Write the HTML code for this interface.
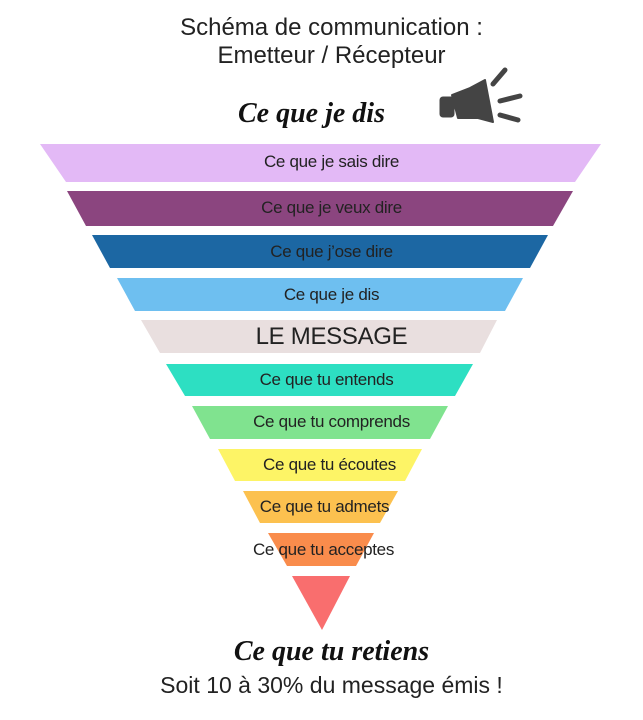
<!DOCTYPE html>
<html><head><meta charset="utf-8"><style>
body{margin:0;width:643px;height:720px;background:#fff;position:relative;overflow:hidden;font-family:"Liberation Sans",sans-serif;}
.t{position:absolute;left:0;width:643px;text-align:center;color:#222;}
.b{position:absolute;left:0;width:643px;text-align:center;font-size:17px;color:#222;letter-spacing:-0.3px;}
</style></head><body>
<div class="t" style="top:14px;font-size:24px;line-height:28px;left:10px;">Schéma de communication :<br>Emetteur / Récepteur</div>
<div class="t" style="top:98px;left:-10px;font-family:'Liberation Serif',serif;font-style:italic;font-weight:bold;font-size:28px;color:#111;">Ce que je dis</div>
<svg style="position:absolute;left:0;top:0" width="643" height="720">
<g fill="#444" stroke="#444" stroke-linecap="round">
<polygon points="452,95 470,88 485,80 493,122 478,118 458,118" stroke-width="2" stroke-linejoin="round"/>
<rect x="440" y="97" width="14" height="20" rx="3"/>
<line x1="493" y1="84" x2="505" y2="70" stroke-width="5"/>
<line x1="500" y1="101" x2="520" y2="96" stroke-width="5"/>
<line x1="500" y1="115" x2="518" y2="120" stroke-width="5"/>
</g>
<polygon points="40,144 601,144 575,182 66,182" fill="#e3b9f6"/>
<polygon points="67,191 573,191 553,226 86,226" fill="#8b457f"/>
<polygon points="92,235 548,235 530,268 110,268" fill="#1c67a3"/>
<polygon points="117,278 523,278 505,311 135,311" fill="#6ebff0"/>
<polygon points="141,320 497,320 480,353 160,353" fill="#e9dfdf"/>
<polygon points="166,364 473,364 455,396 185,396" fill="#2ddfc2"/>
<polygon points="192,406 448,406 430,439 210,439" fill="#80e38f"/>
<polygon points="218,449 422,449 405,481 235,481" fill="#fdf466"/>
<polygon points="243,491 398,491 380,523 260,523" fill="#fcc14f"/>
<polygon points="268,533 374,533 356,566 287,566" fill="#f98c4c"/>
<polygon points="292,576 350,576 322,630" fill="#f96e6e"/>
</svg>
<div class="b" style="top:152px;left:10px;">Ce que je sais dire</div>
<div class="b" style="top:198px;left:10px;">Ce que je veux dire</div>
<div class="b" style="top:242px;left:10px;">Ce que j’ose dire</div>
<div class="b" style="top:285px;left:10px;">Ce que je dis</div>
<div class="b" style="top:323px;left:10px;font-size:24px;">LE MESSAGE</div>
<div class="b" style="top:370px;left:5px;">Ce que tu entends</div>
<div class="b" style="top:412px;left:10px;">Ce que tu comprends</div>
<div class="b" style="top:455px;left:8px;">Ce que tu écoutes</div>
<div class="b" style="top:497px;left:3px;">Ce que tu admets</div>
<div class="b" style="top:540px;left:2px;">Ce que tu acceptes</div>
<div class="t" style="top:636px;left:10px;font-family:'Liberation Serif',serif;font-style:italic;font-weight:bold;font-size:28px;color:#111;">Ce que tu retiens</div>
<div class="t" style="top:672px;left:10px;font-size:23px;">Soit 10 à 30% du message émis !</div>
</body></html>
